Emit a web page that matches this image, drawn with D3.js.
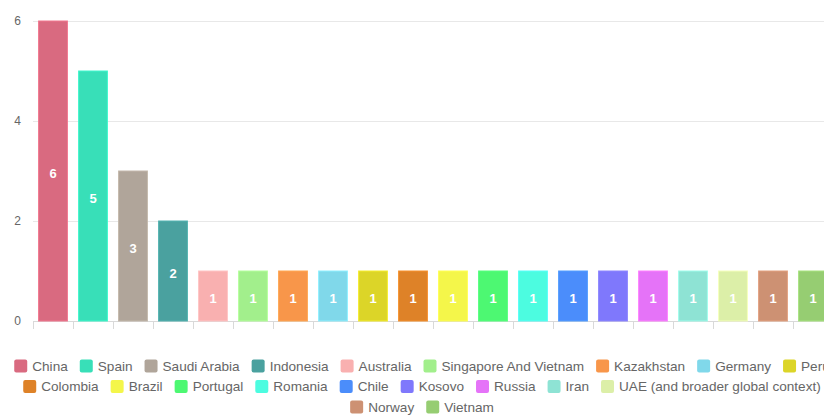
<!DOCTYPE html>
<html>
<head>
<meta charset="utf-8">
<script src="https://cdn.jsdelivr.net/npm/d3@7/dist/d3.min.js"></script>
<style>
  html, body { margin: 0; padding: 0; background: #fff; overflow: hidden; }
  svg { display: block; font-family: "Liberation Sans", Arial, Helvetica, sans-serif; }
</style>
</head>
<body>
<svg id="chart" width="824" height="416"></svg>
<script>
// Countries and their counts
const categories = [
  "China", "Spain", "Saudi Arabia", "Indonesia", "Australia",
  "Singapore And Vietnam", "Kazakhstan", "Germany", "Peru", "Colombia",
  "Brazil", "Portugal", "Romania", "Chile", "Kosovo",
  "Russia", "Iran", "UAE (and broader global context)", "Norway", "Vietnam"
];
const values = [6, 5, 3, 2, 1, 1, 1, 1, 1, 1, 1, 1, 1, 1, 1, 1, 1, 1, 1, 1];
const colors = [
  "#d96a80", "#38dfb8", "#b0a59a", "#4aa19f", "#f9b0b0",
  "#a2ef8c", "#f8964a", "#80d8ea", "#dcd528", "#de8228",
  "#f4f64a", "#4df872", "#4cfce0", "#4b8dfb", "#7f78fc",
  "#e573f8", "#8ee3d4", "#dcefa8", "#cd9173", "#96cd72"
];
const yTicks = [0, 2, 4, 6];

const svg = d3.select("#chart");
const layoutWidth = 844;           // full drawing width; the view shows the left 824px
const plot = { left: 33, right: 833, top: 21, bottom: 321 };

const x = d3.scaleBand()
  .domain(categories)
  .range([plot.left, plot.right])
  .paddingInner(0.28)
  .paddingOuter(0.14);
const xCell = d3.scaleBand()
  .domain(categories)
  .range([plot.left, plot.right])
  .padding(0);
const y = d3.scaleLinear().domain([0, 6]).range([plot.bottom, plot.top]);

// Horizontal grid lines
svg.append("g")
  .selectAll("line")
  .data(yTicks)
  .join("line")
  .attr("x1", plot.left)
  .attr("x2", plot.right)
  .attr("y1", d => y(d) + 0.5)
  .attr("y2", d => y(d) + 0.5)
  .attr("stroke", d => d === 0 ? "#d9d9d9" : "#e8e8e8")
  .attr("stroke-width", 1);

// Y tick labels
svg.append("g")
  .selectAll("text")
  .data(yTicks)
  .join("text")
  .attr("x", 21)
  .attr("y", d => y(d))
  .attr("dy", "0.35em")
  .attr("text-anchor", "end")
  .attr("font-size", 12)
  .attr("fill", "#666")
  .text(d => d);

// Category tick marks below the baseline
const tickPos = categories.map(c => xCell(c)).concat([plot.right]);
svg.append("g")
  .selectAll("line")
  .data(tickPos)
  .join("line")
  .attr("x1", d => Math.round(d) + 0.5)
  .attr("x2", d => Math.round(d) + 0.5)
  .attr("y1", plot.bottom)
  .attr("y2", plot.bottom + 8)
  .attr("stroke", "#d9d9d9");

// Bars
svg.append("g")
  .selectAll("rect")
  .data(categories)
  .join("rect")
  .attr("x", d => x(d))
  .attr("width", x.bandwidth())
  .attr("y", (d, i) => y(values[i]))
  .attr("height", (d, i) => y(0) - y(values[i]))
  .attr("fill", (d, i) => colors[i])
  .attr("stroke", (d, i) => d3.color(colors[i]).brighter(0.3))
  .attr("stroke-width", 1);

// Value labels centred in each bar
svg.append("g")
  .selectAll("text")
  .data(categories)
  .join("text")
  .attr("x", d => x(d) + x.bandwidth() / 2)
  .attr("y", (d, i) => (y(values[i]) + y(0)) / 2 + 2)
  .attr("dy", "0.35em")
  .attr("text-anchor", "middle")
  .attr("font-size", 13)
  .attr("font-weight", "bold")
  .attr("fill", "#fff")
  .text((d, i) => values[i]);

// Legend, wrapped into centred rows
const legend = svg.append("g");
const fontSize = 13.6, box = 13, boxGap = 5, itemGap = 12, rowH = 20.5, firstRowY = 366;
const measure = legend.append("text").attr("font-size", fontSize).attr("visibility", "hidden");
const items = categories.map((c, i) => {
  measure.text(c);
  const w = measure.node().getComputedTextLength();
  return { name: c, color: colors[i], w: box + boxGap + w };
});
measure.remove();

const rows = [];
let cur = [], curW = 0;
items.forEach(it => {
  const add = (cur.length ? itemGap : 0) + it.w;
  if (cur.length && curW + add > layoutWidth - 20) {
    rows.push({ items: cur, w: curW });
    cur = []; curW = 0;
  }
  curW += (cur.length ? itemGap : 0) + it.w;
  cur.push(it);
});
if (cur.length) rows.push({ items: cur, w: curW });

rows.forEach((row, r) => {
  let cx = layoutWidth / 2 - row.w / 2;
  const cy = firstRowY + r * rowH;
  row.items.forEach(it => {
    legend.append("rect")
      .attr("x", cx).attr("y", cy - box / 2)
      .attr("width", box).attr("height", box)
      .attr("rx", 2)
      .attr("fill", it.color);
    legend.append("text")
      .attr("x", cx + box + boxGap)
      .attr("y", cy)
      .attr("dy", "0.36em")
      .attr("font-size", fontSize)
      .attr("fill", "#666")
      .text(it.name);
    cx += it.w + itemGap;
  });
});
</script>
</body>
</html>
